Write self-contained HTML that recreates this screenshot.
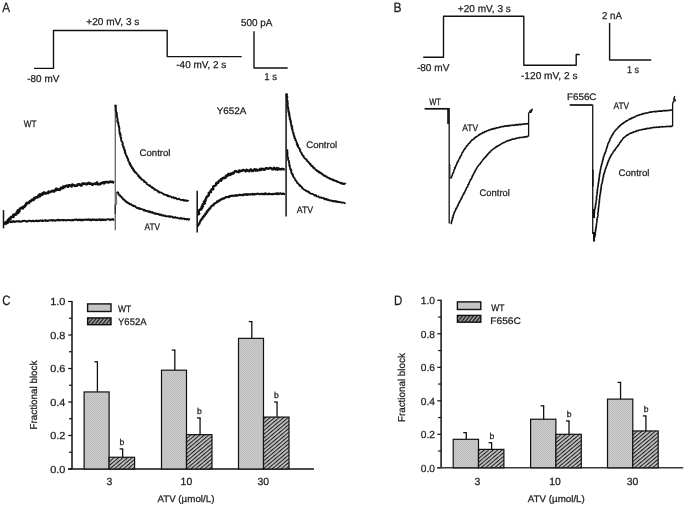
<!DOCTYPE html>
<html><head><meta charset="utf-8"><title>Figure</title>
<style>html,body{margin:0;padding:0;background:#fff;width:685px;height:506px;overflow:hidden}svg{display:block;filter:grayscale(1)}text{font-family:"Liberation Sans",sans-serif;stroke:#222;stroke-width:0.25px}</style>
</head><body>
<svg width="685" height="506" viewBox="0 0 685 506" font-family='"Liberation Sans", sans-serif' fill="#1a1a1a" text-rendering="geometricPrecision">
<defs>
<pattern id="stip" width="2" height="2" patternUnits="userSpaceOnUse">
<rect width="2" height="2" fill="#cbcbcb"/><rect width="1" height="1" fill="#bdbdbd"/><rect x="1" y="1" width="1" height="1" fill="#bdbdbd"/>
</pattern>
<pattern id="hatch" width="2.9" height="2.9" patternUnits="userSpaceOnUse" patternTransform="rotate(50)">
<rect width="2.9" height="2.9" fill="#c6c6c6"/><rect width="1.1" height="2.9" fill="#1e1e1e"/>
</pattern>
<pattern id="hatchL" width="2.9" height="2.9" patternUnits="userSpaceOnUse" patternTransform="rotate(38)">
<rect width="2.9" height="2.9" fill="#262626"/><rect width="1.3" height="2.9" fill="#b4b4b4"/>
</pattern>
</defs>
<rect width="685" height="506" fill="#fff"/>
<text x="2.2" y="12.0" font-size="13.5" text-anchor="start" textLength="7.8" lengthAdjust="spacingAndGlyphs">A</text>
<polyline points="34.00,68.40 53.50,68.40 53.50,30.50 167.20,30.50 167.20,56.60 241.70,56.60" fill="none" stroke="#111" stroke-width="1.4" stroke-linejoin="round" stroke-linecap="butt"/>
<text x="86.3" y="24.5" font-size="10.0" text-anchor="start" textLength="53.0" lengthAdjust="spacingAndGlyphs">+20 mV, 3 s</text>
<text x="27.3" y="82.3" font-size="10.0" text-anchor="start" textLength="32.0" lengthAdjust="spacingAndGlyphs">-80 mV</text>
<text x="176.3" y="68.0" font-size="10.0" text-anchor="start" textLength="50.0" lengthAdjust="spacingAndGlyphs">-40 mV, 2 s</text>
<polyline points="254.00,31.30 254.00,68.00 287.70,68.00" fill="none" stroke="#111" stroke-width="1.4" stroke-linejoin="round" stroke-linecap="butt"/>
<text x="241.0" y="26.2" font-size="10.0" text-anchor="start" textLength="31.4" lengthAdjust="spacingAndGlyphs">500 pA</text>
<text x="264.2" y="79.7" font-size="10.0" text-anchor="start" textLength="12.8" lengthAdjust="spacingAndGlyphs">1 s</text>
<text x="23.7" y="126.5" font-size="9.5" text-anchor="start" textLength="12.7" lengthAdjust="spacingAndGlyphs">WT</text>
<line x1="3.50" y1="210.10" x2="3.50" y2="228.40" stroke="#111" stroke-width="1.5"/>
<polyline points="4.50,224.50 4.67,223.32 6.08,223.53 5.89,221.98 7.25,222.11 7.66,221.22 7.86,220.10 9.20,220.19 9.14,218.82 10.39,218.82 10.47,217.61 11.14,217.00 12.30,216.87 13.57,216.84 13.11,215.10 13.92,214.61 15.19,214.61 16.34,214.48 16.42,213.26 16.80,212.34 18.34,212.64 17.60,210.52 19.48,211.23 19.33,209.69 19.84,208.85 20.53,208.23 21.51,208.00 22.91,208.35 22.80,206.68 24.06,206.83 24.86,206.37 25.19,205.34 26.13,205.04 26.12,203.64 26.81,203.04 27.71,202.68 29.08,202.90 29.44,201.90 30.01,201.15 31.10,201.08 31.66,200.30 32.21,199.50 33.58,199.87 34.21,199.19 34.41,197.85 35.57,197.95 36.27,197.36 37.45,197.51 38.05,196.77 38.35,195.47 39.85,196.41 39.85,194.31 40.96,194.55 42.08,194.90 42.46,193.33 43.57,193.71 44.10,192.47 45.42,193.47 46.34,193.38 47.07,192.70 48.14,193.06 48.64,191.61 49.76,192.14 50.56,191.66 51.42,191.37 52.22,190.85 53.33,191.40 54.27,191.36 54.85,190.11 55.84,190.24 56.32,188.70 57.60,189.78 58.44,189.40 59.52,189.87 60.29,189.25 60.83,187.86 61.76,187.82 62.82,188.15 63.28,186.52 64.44,187.19 65.14,186.31 65.99,185.95 66.86,185.59 68.11,186.89 68.69,185.32 69.65,185.40 70.60,185.55 71.67,186.45 72.30,184.59 73.32,185.26 74.25,185.35 75.25,185.96 76.13,185.71 77.04,185.70 77.81,184.33 78.75,184.53 79.65,184.32 80.65,185.39 81.57,185.48 82.34,183.64 83.25,183.62 84.17,183.68 85.08,183.62 86.02,184.12 86.95,184.29 87.81,183.52 88.68,182.89 89.65,183.74 90.55,183.58 91.49,183.95 92.45,184.74 93.32,184.11 94.21,183.67 95.13,183.84 96.04,183.91 96.87,182.49 97.89,184.30 98.78,183.98 99.70,184.14 100.60,183.92 101.46,182.98 102.37,182.95 103.24,182.25 104.21,183.37 105.06,182.07 105.97,182.03 106.89,182.30 107.80,182.15 108.73,182.50 109.61,181.82 110.51,181.66 111.44,181.95 112.34,181.80 113.28,182.34 114.20,182.60" fill="none" stroke="#111" stroke-width="2.6" stroke-linejoin="round" stroke-linecap="butt"/>
<polyline points="4.50,224.50 4.94,224.32 5.06,223.68 5.50,223.52 5.95,223.36 6.35,223.16 6.66,222.74 7.37,223.22 7.83,223.17 8.05,222.51 8.49,222.37 8.80,221.84 9.26,221.73 9.77,221.86 10.20,221.71 10.73,222.21 11.08,221.48 11.52,221.29 12.07,222.16 12.48,221.70 12.90,221.28 13.39,221.64 13.81,221.09 14.29,221.56 14.77,221.98 15.21,221.84 15.66,221.65 16.08,221.19 16.54,221.28 16.98,221.06 17.46,221.64 17.90,221.38 18.36,221.61 18.80,221.15 19.25,221.02 19.72,221.59 20.18,221.75 20.62,221.61 21.07,221.54 21.53,221.54 21.98,221.45 22.41,220.92 22.87,221.20 23.32,221.03 23.77,220.69 24.22,220.68 24.68,220.92 25.13,220.88 25.59,221.30 26.05,221.56 26.49,221.04 26.96,221.51 27.41,221.55 27.86,221.51 28.30,220.90 28.75,220.75 29.20,220.74 29.65,220.70 30.10,220.69 30.56,221.10 31.02,221.36 31.47,221.29 31.92,220.91 32.37,221.08 32.83,221.21 33.26,220.48 33.73,221.05 34.19,221.28 34.64,221.14 35.09,221.10 35.53,220.81 35.98,220.50 36.44,221.10 36.88,220.63 37.35,221.09 37.81,221.25 38.24,220.66 38.69,220.65 39.16,221.19 39.61,220.95 40.04,220.39 40.50,220.33 40.95,220.35 41.42,221.09 41.87,220.98 42.30,220.30 42.77,220.97 43.23,221.11 43.67,220.78 44.12,220.46 44.57,220.65 45.02,220.22 45.46,220.09 45.94,221.03 46.39,220.70 46.83,220.56 47.30,220.95 47.74,220.44 48.20,220.87 48.65,220.81 49.08,220.18 49.54,220.21 49.99,220.23 50.44,220.17 50.90,220.50 51.35,220.16 51.80,220.31 52.25,220.01 52.72,220.77 53.16,220.20 53.61,220.29 54.07,220.41 54.53,220.72 54.97,220.22 55.43,220.71 55.87,220.28 56.33,220.30 56.78,220.28 57.22,219.76 57.68,220.17 58.13,219.91 58.58,219.72 59.04,220.50 59.48,219.87 59.94,220.16 60.40,220.40 60.85,220.23 61.29,219.99 61.75,220.17 62.20,220.20 62.66,220.42 63.10,219.74 63.56,220.18 64.01,219.86 64.46,219.88 64.92,220.37 65.37,220.10 65.82,220.14 66.28,220.34 66.73,220.48 67.17,220.00 67.63,220.17 68.08,220.05 68.53,220.05 68.99,220.23 69.44,219.98 69.89,220.05 70.34,219.99 70.80,220.45 71.25,220.20 71.70,220.37 72.15,220.43 72.60,219.74 73.05,220.03 73.51,220.41 73.96,220.30 74.41,219.60 74.86,219.57 75.31,219.89 75.76,219.52 76.22,219.68 76.67,219.51 77.12,220.10 77.58,220.21 78.03,220.32 78.48,219.57 78.93,220.13 79.38,220.07 79.83,219.54 80.29,220.28 80.74,220.36 81.19,219.61 81.65,220.34 82.10,219.78 82.55,219.87 83.00,220.36 83.46,220.20 83.90,219.53 84.36,219.79 84.81,219.87 85.26,219.69 85.71,219.55 86.16,219.67 86.62,220.07 87.07,219.36 87.52,219.89 87.97,219.77 88.42,219.35 88.88,219.66 89.33,219.95 89.78,219.83 90.23,219.38 90.69,220.30 91.14,220.10 91.59,220.28 92.04,219.41 92.49,219.56 92.94,219.33 93.40,220.07 93.85,219.56 94.30,219.41 94.76,219.70 95.21,220.19 95.66,220.09 96.11,219.53 96.56,219.42 97.02,220.18 97.47,219.83 97.92,219.96 98.37,219.35 98.82,219.31 99.28,219.94 99.73,219.67 100.18,219.32 100.64,220.18 101.09,219.88 101.54,220.04 101.99,219.32 102.45,220.09 102.89,219.30 103.35,220.09 103.80,219.68 104.25,219.56 104.70,219.78 105.16,220.15 105.61,219.49 106.06,219.35 106.51,219.74 106.96,219.45 107.42,219.32 107.87,219.37 108.32,219.26 108.77,219.41 109.23,219.52 109.68,219.51 110.13,219.97 110.58,219.49 111.03,219.70 111.49,219.38 111.94,219.55 112.39,219.22 112.84,219.45 113.30,219.22 113.75,219.93 114.20,219.70" fill="none" stroke="#111" stroke-width="1.9" stroke-linejoin="round" stroke-linecap="butt"/>
<line x1="115.30" y1="104.50" x2="115.30" y2="230.20" stroke="#666" stroke-width="1.3"/>
<line x1="115.20" y1="204.60" x2="115.20" y2="214.10" stroke="#222" stroke-width="1.2"/>
<polyline points="115.60,104.80 115.65,105.25 115.22,105.73 116.08,106.13 115.40,106.63 115.82,107.05 115.80,107.51 115.50,107.99 115.98,108.40 115.91,108.86 115.77,109.33 115.53,109.81 116.21,110.20 115.77,110.70 115.95,111.14 116.07,111.58 116.35,112.00 116.46,112.44 116.81,112.85 116.79,113.31 116.90,113.75 116.29,114.28 116.84,114.66 116.99,115.10 117.14,115.53 116.46,116.09 116.51,116.55 116.79,116.96 117.25,117.34 117.37,117.77 117.40,118.23 117.32,118.70 117.70,119.09 117.50,119.59 117.77,120.00 117.16,120.57 117.23,121.02 117.73,121.39 118.11,121.78 117.48,122.35 118.20,122.68 118.23,123.14 118.66,123.52 118.36,124.03 118.35,124.49 118.40,124.94 118.78,125.34 118.56,125.84 119.13,126.19 118.95,126.68 119.20,127.10 118.98,127.60 119.41,127.98 119.51,128.42 119.32,128.91 119.47,129.35 119.21,129.86 119.35,130.29 119.22,130.77 119.40,131.20 119.43,131.66 119.36,132.13 119.93,132.48 120.08,132.91 119.53,133.49 120.44,133.76 119.97,134.32 120.14,134.75 120.82,135.06 120.14,135.67 120.19,136.13 120.54,136.51 120.54,136.98 120.56,137.44 121.32,137.72 121.05,138.25 121.17,138.69 120.96,139.20 121.09,139.64 121.18,140.08 121.53,140.46 121.34,140.98 121.66,141.36 121.76,141.80 122.33,142.12 122.64,142.51 122.66,142.97 122.56,143.46 122.93,143.83 122.35,144.47 122.74,144.82 122.80,145.28 122.93,145.71 123.01,146.16 123.32,146.54 123.92,146.83 123.29,147.50 123.47,147.91 123.84,148.27 123.94,148.71 123.96,149.18 124.66,149.43 124.16,150.07 124.77,150.35 125.08,150.72 125.04,151.21 124.74,151.79 125.39,152.05 125.03,152.65 124.96,153.16 125.56,153.42 125.82,153.81 125.88,154.27 125.85,154.76 125.93,155.22 126.23,155.59 126.36,156.02 127.05,156.24 127.15,156.68 127.22,157.14 126.93,157.74 127.50,158.00 127.43,158.52 128.11,158.73 128.24,159.17 128.23,159.66 128.03,160.24 128.20,160.67 128.39,161.07 128.93,161.33 128.91,161.84 129.15,162.22 129.35,162.63 129.86,162.88 129.37,163.63 130.19,163.71 129.71,164.47 129.96,164.85 130.98,164.80 130.82,165.41 130.73,165.98 130.83,166.45 131.51,166.58 131.90,166.87 132.19,167.23 131.81,168.00 132.67,167.99 132.61,168.58 133.23,168.71 133.17,169.30 133.07,169.92 134.00,169.83 133.70,170.59 134.22,170.78 134.18,171.37 134.60,171.63 135.25,171.70 134.99,172.46 135.59,172.57 136.23,172.63 136.52,172.96 136.43,173.62 136.75,173.94 137.16,174.18 137.58,174.41 137.73,174.88 138.05,175.20 137.97,175.89 138.90,175.65 138.67,176.49 138.92,176.89 139.75,176.71 139.50,177.60 139.98,177.77 140.17,178.22 140.92,178.10 141.19,178.47 141.50,178.80 141.42,179.55 142.03,179.56 142.51,179.70 142.80,180.05 143.24,180.23 143.72,180.36 144.03,180.69 143.89,181.55 144.59,181.42 144.53,182.21 145.31,181.96 145.65,182.26 145.85,182.74 146.41,182.77 146.65,183.19 146.65,183.93 147.05,184.15 147.46,184.37 147.93,184.50 148.12,185.00 148.47,185.30 149.06,185.26 149.32,185.67 150.08,185.40 150.04,186.22 150.57,186.26 150.75,186.78 151.18,186.96 151.76,186.94 152.26,187.02 152.11,188.00 152.95,187.61 153.12,188.16 153.56,188.32 153.96,188.54 154.08,189.16 154.32,189.61 155.10,189.27 155.26,189.85 155.83,189.79 156.07,190.25 156.54,190.35 157.04,190.38 157.43,190.60 157.80,190.86 157.84,191.69 158.44,191.56 158.97,191.53 159.04,192.35 159.40,192.65 160.06,192.37 160.60,192.30 160.98,192.55 161.43,192.66 161.73,193.09 162.25,193.05 162.59,193.38 162.99,193.58 163.28,194.05 163.57,194.53 164.04,194.58 164.58,194.44 165.00,194.61 165.38,194.88 165.85,194.91 166.29,195.03 166.80,194.93 167.15,195.29 167.35,196.09 168.05,195.44 168.36,195.95 168.75,196.21 169.10,196.58 169.74,196.11 170.15,196.30 170.59,196.42 170.97,196.70 171.39,196.88 171.67,197.50 172.13,197.54 172.56,197.70 173.24,197.02 173.67,197.16 173.90,197.94 174.29,198.25 174.84,197.97 175.24,198.21 175.84,197.77 176.17,198.27 176.46,198.90 176.93,198.93 177.36,199.07 177.77,199.30 178.38,198.71 178.86,198.69 179.28,198.84 179.63,199.30 180.04,199.56 180.42,199.92 180.91,199.81 181.37,199.84 181.78,200.05 182.29,199.85 182.71,200.04 183.26,199.63 183.55,200.45 184.10,200.01 184.41,200.77 184.91,200.59 185.42,200.34 185.89,200.26 186.31,200.46 186.69,200.92 187.13,201.06 187.67,200.57 188.12,200.60 188.50,201.10" fill="none" stroke="#111" stroke-width="1.8" stroke-linejoin="round" stroke-linecap="butt"/>
<line x1="116.50" y1="192.00" x2="116.50" y2="205.00" stroke="#777" stroke-width="1.2"/>
<polyline points="116.90,191.60 117.26,191.90 117.66,192.17 117.63,192.76 118.37,192.76 118.42,193.29 118.57,193.75 118.46,194.41 118.99,194.57 119.09,195.07 119.70,195.17 120.17,195.36 120.45,195.72 120.20,196.53 120.69,196.71 121.28,196.80 121.80,196.95 121.75,197.60 121.92,198.05 122.42,198.20 122.85,198.41 122.88,199.02 123.04,199.52 123.84,199.32 124.31,199.48 124.44,200.01 124.73,200.37 124.91,200.86 125.57,200.77 125.56,201.52 125.96,201.75 126.46,201.82 127.00,201.83 126.95,202.72 127.69,202.42 127.81,203.09 128.50,202.82 128.89,203.05 129.02,203.74 129.64,203.56 129.72,204.36 130.34,204.18 130.88,204.13 131.26,204.37 131.57,204.76 131.86,205.18 132.14,205.64 132.90,205.12 133.20,205.54 133.69,205.57 133.78,206.45 134.54,205.89 134.99,206.00 135.40,206.20 135.66,206.70 135.85,207.36 136.27,207.54 136.74,207.61 137.04,208.04 137.48,208.18 138.14,207.82 138.61,207.88 138.74,208.74 139.23,208.74 139.91,208.23 140.11,208.98 140.63,208.87 141.06,209.02 141.50,209.13 141.98,209.12 142.46,209.11 142.80,209.51 143.21,209.72 143.45,210.43 144.14,209.78 144.32,210.71 144.98,210.12 145.37,210.40 145.67,210.97 146.11,211.10 146.65,210.86 147.20,210.62 147.51,211.16 147.98,211.19 148.26,211.84 148.90,211.27 149.29,211.57 149.57,212.21 150.25,211.50 150.58,212.00 150.90,212.51 151.35,212.59 151.98,212.02 152.42,212.14 152.85,212.29 153.05,213.24 153.67,212.72 153.97,213.32 154.37,213.58 154.96,213.16 155.41,213.22 155.67,214.00 156.20,213.78 156.73,213.56 157.05,214.11 157.59,213.84 158.04,213.91 158.54,213.76 158.79,214.61 159.19,214.87 159.70,214.71 160.07,215.13 160.73,214.35 161.12,214.66 161.50,215.00 161.83,215.57 162.28,215.68 162.85,215.23 163.32,215.19 163.72,215.46 164.15,215.62 164.51,216.14 165.10,215.50 165.42,216.19 165.88,216.21 166.31,216.38 166.77,216.41 167.25,216.33 167.74,216.13 168.19,216.20 168.63,216.31 169.01,216.80 169.57,216.19 170.00,216.38 170.35,217.00 170.88,216.57 171.36,216.47 171.81,216.51 172.17,217.10 172.66,216.95 173.00,217.67 173.46,217.65 173.89,217.83 174.46,217.20 174.93,217.10 175.38,217.18 175.76,217.66 176.17,217.94 176.66,217.75 177.14,217.61 177.56,217.86 177.98,218.13 178.42,218.25 178.86,218.39 179.30,218.55 179.77,218.43 180.29,217.95 180.65,218.72 181.17,218.24 181.58,218.57 182.05,218.44 182.46,218.85 182.97,218.38 183.42,218.48 183.87,218.53 184.33,218.49 184.69,219.27 185.18,219.02 185.66,218.82 186.10,218.94 186.49,219.58 186.99,219.15 187.47,218.92 187.86,219.54 188.33,219.43 188.75,219.81 189.28,218.96 189.70,219.40" fill="none" stroke="#111" stroke-width="1.8" stroke-linejoin="round" stroke-linecap="butt"/>
<text x="139.5" y="155.9" font-size="9.5" text-anchor="start" textLength="31.0" lengthAdjust="spacingAndGlyphs">Control</text>
<text x="144.5" y="230.0" font-size="9.5" text-anchor="start" textLength="15.5" lengthAdjust="spacingAndGlyphs">ATV</text>
<text x="216.7" y="114.3" font-size="9.5" text-anchor="start" textLength="29.7" lengthAdjust="spacingAndGlyphs">Y652A</text>
<line x1="197.20" y1="190.80" x2="197.20" y2="232.60" stroke="#111" stroke-width="1.5"/>
<polyline points="197.60,214.80 198.62,214.29 199.16,213.55 198.02,211.94 198.89,211.36 199.01,210.39 199.56,209.65 201.37,209.58 201.12,208.41 202.16,207.95 201.62,206.61 202.92,206.29 202.64,205.09 202.75,204.11 204.10,203.83 204.84,203.21 203.84,201.58 205.15,201.29 205.64,200.52 205.40,199.33 206.12,198.69 206.19,197.67 206.76,196.95 207.32,196.21 208.38,195.78 208.95,195.06 208.66,193.81 208.83,192.83 209.86,192.40 210.94,192.03 210.64,190.72 211.37,190.12 211.72,189.25 213.21,189.22 213.36,188.19 213.13,186.87 213.76,186.18 214.79,185.81 215.61,185.28 216.34,184.69 216.11,183.28 216.84,182.68 218.24,182.75 218.47,181.71 218.95,180.90 219.66,180.34 221.17,180.76 221.08,179.19 222.12,179.05 222.62,178.18 223.46,177.75 224.71,178.00 225.62,177.75 225.75,176.20 226.38,175.45 227.69,175.94 227.98,174.58 228.62,173.80 230.25,174.97 230.65,173.71 231.81,174.05 232.33,172.93 233.50,173.50 234.07,172.42 234.77,171.59 235.58,171.06 236.74,171.86 237.67,171.82 238.67,172.15 239.25,170.36 240.34,171.25 241.17,170.62 242.10,170.79 242.95,169.99 243.88,170.19 244.82,170.61 245.78,171.36 246.60,169.68 247.55,170.39 248.50,170.96 249.43,171.23 250.24,169.63 251.15,169.43 252.16,171.01 253.07,171.01 253.92,169.97 254.76,169.05 255.80,170.73 256.62,169.58 257.63,170.53 258.48,169.86 259.44,170.16 260.18,168.73 261.24,169.86 262.01,168.64 262.96,168.91 263.94,169.71 264.84,169.61 265.65,168.25 266.57,168.25 267.51,168.55 268.43,168.73 269.33,168.42 270.23,167.86 271.16,168.10 272.06,169.06 272.93,169.44 273.96,167.79 274.78,168.91 275.65,169.39 276.69,168.04 277.47,169.70 278.46,168.32 279.33,169.31 280.24,169.23 281.15,169.41 282.07,168.79 282.98,169.03 283.89,169.36 284.80,169.20" fill="none" stroke="#111" stroke-width="2.4" stroke-linejoin="round" stroke-linecap="butt"/>
<polyline points="197.60,226.70 197.76,226.27 197.96,225.86 197.80,225.26 198.54,225.13 198.64,224.67 198.63,224.15 199.31,224.00 199.55,223.62 199.49,223.06 199.47,222.53 199.95,222.28 199.86,221.70 200.11,221.32 200.60,221.09 200.55,220.52 201.08,220.32 201.38,219.97 201.22,219.33 201.96,219.27 201.74,218.59 202.53,218.56 202.81,218.21 202.84,217.69 202.71,217.06 203.33,216.93 203.48,216.49 204.21,216.44 203.79,215.61 204.64,215.65 205.01,215.37 205.05,214.85 205.38,214.53 205.14,213.80 206.04,213.90 205.91,213.24 206.56,213.16 206.79,212.77 206.47,211.95 207.24,211.97 207.63,211.70 207.23,210.80 207.74,210.62 208.34,210.52 208.17,209.79 209.02,209.91 208.84,209.16 209.55,209.17 209.34,208.38 209.91,208.28 210.52,208.23 210.30,207.41 210.65,207.12 211.14,206.96 211.32,206.51 211.44,205.99 211.86,205.78 212.17,205.46 213.03,205.72 213.18,205.22 213.66,205.08 213.51,204.23 214.26,204.39 214.17,203.59 214.79,203.60 215.21,203.39 215.39,202.89 216.07,203.00 216.24,202.47 216.62,202.22 217.16,202.20 217.08,201.30 217.96,201.77 218.13,201.22 218.38,200.79 218.97,200.90 219.09,200.21 219.83,200.64 220.02,200.07 220.31,199.67 220.89,199.83 221.16,199.34 221.46,198.91 222.11,199.23 222.24,198.41 222.97,198.94 223.17,198.24 223.74,198.43 224.29,198.59 224.58,198.06 225.03,197.98 225.35,197.50 225.69,197.07 226.14,196.96 226.61,196.94 227.17,197.28 227.55,196.98 228.01,196.95 228.54,197.21 228.80,196.36 229.26,196.35 229.80,196.67 230.11,195.95 230.55,195.84 231.07,196.10 231.47,195.77 231.97,195.93 232.39,195.72 232.90,196.00 233.35,195.94 233.74,195.49 234.25,195.85 234.67,195.64 235.08,195.25 235.62,195.99 235.99,195.25 236.42,195.10 236.87,194.99 237.38,195.48 237.85,195.67 238.29,195.53 238.70,195.10 239.14,194.92 239.56,194.62 240.07,195.21 240.52,195.09 240.95,194.83 241.43,195.09 241.86,194.85 242.35,195.30 242.79,195.06 243.20,194.54 243.70,195.16 244.09,194.26 244.58,194.72 245.02,194.56 245.46,194.36 245.90,194.15 246.40,194.84 246.80,194.05 247.29,194.56 247.76,194.92 248.17,194.10 248.62,194.13 249.10,194.52 249.54,194.40 250.00,194.51 250.46,194.66 250.88,194.00 251.34,194.11 251.79,194.08 252.23,193.81 252.72,194.63 253.17,194.50 253.61,194.42 254.04,193.69 254.52,194.51 254.97,194.39 255.41,194.09 255.87,194.35 256.32,194.04 256.76,193.80 257.21,193.66 257.66,193.77 258.11,193.57 258.57,193.85 259.04,194.25 259.49,194.18 259.94,194.32 260.39,194.17 260.83,193.72 261.29,194.00 261.74,193.87 262.20,194.21 262.65,193.94 263.10,193.68 263.55,194.05 264.01,194.37 264.45,193.61 264.91,194.27 265.35,193.40 265.81,193.65 266.26,193.62 266.72,194.12 267.17,194.32 267.62,194.12 268.07,193.69 268.53,194.24 268.97,193.69 269.42,193.60 269.88,194.26 270.33,193.98 270.78,194.04 271.24,194.01 271.69,194.32 272.14,193.81 272.59,194.18 273.04,194.03 273.50,194.19 273.95,193.77 274.40,194.05 274.85,193.90 275.30,193.63 275.75,193.53 276.21,193.94 276.66,193.39 277.11,194.23 277.56,193.46 278.02,193.34 278.47,193.42 278.92,194.24 279.37,193.65 279.82,193.45 280.28,193.33 280.73,193.35 281.18,194.00 281.63,193.94 282.09,194.00 282.54,194.04 282.99,193.37 283.44,193.89 283.90,193.66 284.35,194.12 284.80,193.80" fill="none" stroke="#111" stroke-width="2.0" stroke-linejoin="round" stroke-linecap="butt"/>
<line x1="286.10" y1="93.30" x2="286.10" y2="216.60" stroke="#222" stroke-width="1.6"/>
<polyline points="286.80,94.00 287.25,94.44 286.47,94.92 286.44,95.38 286.43,95.83 287.30,96.24 287.22,96.70 287.34,97.14 287.45,97.59 286.67,98.09 286.74,98.54 286.95,98.98 286.80,99.45 287.03,99.89 287.41,100.31 287.63,100.74 287.67,101.19 287.06,101.70 287.65,102.10 287.58,102.56 287.52,103.02 287.96,103.43 287.77,103.90 287.79,104.35 287.41,104.85 287.80,105.26 287.90,105.70 287.32,106.23 287.84,106.62 287.55,107.12 287.85,107.53 288.49,107.89 288.18,108.40 288.23,108.85 287.97,109.35 288.46,109.73 288.18,110.23 288.42,110.65 288.81,111.04 288.25,111.60 289.09,111.91 288.45,112.48 289.16,112.81 289.41,113.23 289.30,113.71 288.83,114.26 288.71,114.74 289.75,115.00 289.37,115.54 289.46,115.98 289.25,116.48 289.94,116.80 289.73,117.31 289.97,117.72 289.59,118.26 290.24,118.59 289.66,119.17 290.40,119.48 290.57,119.91 290.19,120.45 290.48,120.85 290.95,121.21 290.53,121.76 291.16,122.09 290.56,122.68 290.75,123.11 290.75,123.57 291.00,123.98 291.36,124.36 291.42,124.81 291.52,125.25 291.13,125.80 292.01,126.07 291.33,126.69 292.27,126.94 292.20,127.42 292.25,127.87 291.73,128.46 292.23,128.80 292.45,129.21 292.07,129.77 292.81,130.05 292.71,130.55 292.75,131.00 292.65,131.50 292.76,131.93 292.98,132.35 293.39,132.71 293.53,133.14 293.81,133.53 293.27,134.15 293.57,134.54 293.62,135.00 294.30,135.27 294.17,135.78 293.98,136.31 294.30,136.69 294.86,136.98 294.68,137.51 294.42,138.08 295.17,138.30 295.36,138.71 295.40,139.17 295.17,139.73 295.19,140.20 296.00,140.39 296.16,140.81 296.23,141.26 296.33,141.71 296.32,142.20 296.82,142.48 296.85,142.96 297.15,143.32 296.61,144.05 297.02,144.37 297.78,144.53 297.18,145.29 298.15,145.35 298.08,145.88 297.72,146.54 298.09,146.87 298.33,147.26 298.79,147.54 299.20,147.85 298.99,148.45 299.66,148.64 299.76,149.09 299.79,149.58 300.30,149.84 300.17,150.41 300.02,150.99 300.31,151.36 300.68,151.67 300.78,152.14 301.14,152.46 301.63,152.70 301.45,153.31 301.85,153.60 301.79,154.16 301.89,154.63 302.53,154.75 302.66,155.20 302.77,155.67 303.30,155.85 303.72,156.10 303.60,156.76 303.75,157.22 304.11,157.51 304.45,157.82 304.62,158.28 305.05,158.52 305.37,158.85 305.81,159.07 306.21,159.33 306.27,159.88 306.97,159.87 307.02,160.43 307.05,161.01 307.41,161.30 307.77,161.59 308.35,161.67 308.52,162.12 308.80,162.48 308.98,162.93 309.44,163.12 309.55,163.64 309.67,164.14 310.52,163.97 310.49,164.63 310.71,165.04 311.30,165.11 311.54,165.51 311.51,166.17 312.50,165.84 312.46,166.52 313.05,166.57 312.94,167.33 313.15,167.76 313.77,167.77 314.39,167.78 314.40,168.43 314.75,168.71 314.97,169.15 315.45,169.29 315.70,169.68 315.92,170.12 316.47,170.16 316.88,170.36 316.90,171.06 317.71,170.76 317.78,171.41 318.32,171.45 318.46,172.02 319.20,171.78 319.07,172.74 319.80,172.49 320.34,172.51 320.59,172.94 320.90,173.30 321.49,173.23 321.65,173.82 322.03,174.07 322.26,174.55 322.83,174.50 323.26,174.66 323.66,174.86 323.78,175.53 324.07,175.93 324.67,175.80 325.21,175.76 325.32,176.49 325.91,176.35 326.40,176.40 326.83,176.54 326.93,177.32 327.32,177.56 327.81,177.61 328.29,177.67 328.65,177.95 329.21,177.85 329.30,178.71 329.97,178.36 330.26,178.81 330.59,179.16 331.01,179.35 331.56,179.22 332.05,179.25 332.35,179.67 332.94,179.47 333.06,180.30 333.67,180.04 333.88,180.68 334.53,180.33 334.91,180.61 335.37,180.68 335.72,181.01 336.23,180.97 336.72,180.97 336.87,181.80 337.45,181.56 337.88,181.69 338.29,181.90 338.65,182.22 339.09,182.32 339.45,182.66 339.87,182.83 340.39,182.68 340.66,183.35 341.11,183.41 341.77,182.78 341.99,183.64 342.41,183.84 342.88,183.84 343.48,183.33 343.75,184.11 344.24,184.03 344.82,183.53 345.26,183.63 345.60,184.20" fill="none" stroke="#111" stroke-width="1.8" stroke-linejoin="round" stroke-linecap="butt"/>
<polyline points="287.00,149.50 287.29,149.93 287.48,150.37 287.48,150.82 287.44,151.28 286.95,151.79 287.42,152.19 287.67,152.62 286.97,153.15 287.14,153.59 287.82,153.96 287.16,154.50 287.50,154.92 287.39,155.39 287.56,155.82 287.40,156.30 287.57,156.74 287.59,157.19 288.29,157.54 287.87,158.07 288.10,158.49 287.97,158.97 288.34,159.37 287.98,159.89 288.38,160.28 288.75,160.68 288.87,161.11 289.05,161.54 288.79,162.05 289.30,162.41 289.00,162.94 289.41,163.31 289.17,163.82 289.26,164.27 289.32,164.72 289.11,165.23 290.05,165.47 289.35,166.11 289.82,166.45 289.85,166.92 289.87,167.38 289.82,167.87 290.39,168.18 290.48,168.63 290.09,169.23 291.07,169.40 290.67,170.01 290.81,170.44 291.53,170.68 291.13,171.30 291.21,171.75 291.13,172.27 291.85,172.49 291.40,173.14 292.01,173.39 292.20,173.80 291.99,174.37 292.95,174.44 292.50,175.12 292.77,175.49 293.23,175.78 292.96,176.41 293.60,176.59 293.72,177.05 293.89,177.47 293.91,177.99 294.62,178.11 294.66,178.61 294.91,179.00 295.05,179.46 295.07,179.99 295.77,180.08 295.58,180.76 296.19,180.89 296.37,181.32 296.82,181.55 296.90,182.05 296.80,182.69 297.32,182.85 297.49,183.29 298.13,183.35 298.43,183.68 298.74,184.01 298.82,184.55 299.09,184.92 299.29,185.36 300.15,185.18 299.98,185.98 300.19,186.43 300.75,186.51 301.43,186.47 301.59,186.96 302.12,187.05 302.34,187.48 302.20,188.33 302.75,188.38 303.07,188.71 303.34,189.09 303.62,189.46 304.16,189.48 304.52,189.75 304.89,190.02 305.22,190.33 305.66,190.49 305.99,190.81 306.63,190.65 306.78,191.28 307.28,191.33 307.52,191.83 308.24,191.48 308.60,191.77 309.07,191.87 309.12,192.73 309.46,193.07 309.99,193.05 310.52,193.01 310.72,193.62 311.14,193.79 311.65,193.79 312.18,193.72 312.57,193.95 312.92,194.26 313.38,194.36 313.74,194.65 314.06,195.03 314.35,195.49 315.13,194.87 315.34,195.52 315.96,195.22 316.35,195.47 316.50,196.28 317.01,196.24 317.30,196.73 317.90,196.46 318.48,196.23 318.77,196.74 319.12,197.09 319.42,197.57 319.84,197.77 320.43,197.44 320.88,197.53 321.41,197.38 321.66,198.04 322.22,197.77 322.67,197.86 323.14,197.87 323.57,198.00 323.80,198.78 324.40,198.38 324.58,199.32 325.28,198.62 325.48,199.50 326.13,198.92 326.60,198.94 326.84,199.74 327.41,199.40 327.71,199.99 328.29,199.58 328.77,199.56 329.03,200.38 329.48,200.43 329.89,200.67 330.36,200.66 330.94,200.13 331.27,200.76 331.69,200.93 332.18,200.78 332.53,201.33 333.11,200.75 333.41,201.54 333.90,201.38 334.48,200.77 334.92,200.86 335.25,201.57 335.66,201.81 336.24,201.17 336.64,201.48 337.02,201.97 337.56,201.49 337.89,202.25 338.40,201.95 338.91,201.61 339.31,201.98 339.73,202.26 340.20,202.19 340.61,202.49 341.13,202.03 341.49,202.73 342.00,202.36 342.42,202.70 342.87,202.74 343.35,202.59 343.80,202.60 344.21,203.05 344.65,203.26 345.12,203.14 345.60,202.90" fill="none" stroke="#111" stroke-width="1.7" stroke-linejoin="round" stroke-linecap="butt"/>
<text x="306.2" y="147.8" font-size="9.5" text-anchor="start" textLength="31.0" lengthAdjust="spacingAndGlyphs">Control</text>
<text x="296.7" y="213.0" font-size="9.5" text-anchor="start" textLength="16.5" lengthAdjust="spacingAndGlyphs">ATV</text>
<text x="393.5" y="12.2" font-size="13.5" text-anchor="start" textLength="8.0" lengthAdjust="spacingAndGlyphs">B</text>
<polyline points="423.20,57.20 443.50,57.20 443.50,16.30 523.80,16.30 523.80,65.20 576.20,65.20 576.20,54.50 579.70,54.50" fill="none" stroke="#111" stroke-width="1.4" stroke-linejoin="round" stroke-linecap="butt"/>
<text x="457.8" y="11.7" font-size="10.0" text-anchor="start" textLength="53.0" lengthAdjust="spacingAndGlyphs">+20 mV, 3 s</text>
<text x="416.9" y="71.2" font-size="10.0" text-anchor="start" textLength="32.5" lengthAdjust="spacingAndGlyphs">-80 mV</text>
<text x="521.0" y="79.2" font-size="10.0" text-anchor="start" textLength="56.5" lengthAdjust="spacingAndGlyphs">-120 mV, 2 s</text>
<polyline points="609.60,23.00 609.60,60.00 651.20,60.00" fill="none" stroke="#111" stroke-width="1.4" stroke-linejoin="round" stroke-linecap="butt"/>
<text x="602.0" y="19.4" font-size="10.0" text-anchor="start" textLength="20.0" lengthAdjust="spacingAndGlyphs">2 nA</text>
<text x="627.0" y="72.6" font-size="10.0" text-anchor="start" textLength="12.0" lengthAdjust="spacingAndGlyphs">1 s</text>
<text x="429.2" y="105.1" font-size="9.5" text-anchor="start" textLength="11.8" lengthAdjust="spacingAndGlyphs">WT</text>
<polyline points="424.60,108.80 448.20,108.80" fill="none" stroke="#111" stroke-width="1.7" stroke-linejoin="round" stroke-linecap="butt"/>
<line x1="448.20" y1="108.00" x2="448.20" y2="124.10" stroke="#111" stroke-width="2.0"/>
<line x1="449.20" y1="108.00" x2="449.20" y2="223.50" stroke="#222" stroke-width="1.4"/>
<line x1="449.80" y1="164.20" x2="449.80" y2="178.40" stroke="#222" stroke-width="1.2"/>
<polyline points="450.70,178.40 450.65,177.88 451.33,177.69 451.37,177.21 451.62,176.82 451.53,176.29 451.86,175.94 452.25,175.61 452.35,175.15 452.40,174.68 452.41,174.20 452.65,173.81 453.08,173.49 452.97,172.96 453.31,172.61 453.44,172.17 453.77,171.81 453.89,171.37 453.75,170.83 453.75,170.34 454.06,169.97 454.30,169.58 454.55,169.19 454.83,168.81 455.03,168.39 454.71,167.79 455.32,167.53 455.47,167.11 455.66,166.70 455.67,166.22 455.68,165.73 456.18,165.45 456.34,165.03 456.46,164.59 456.78,164.24 456.67,163.68 456.73,163.21 457.18,162.92 457.52,162.58 457.40,162.02 457.90,161.76 458.21,161.41 458.04,160.81 458.45,160.51 458.70,160.13 458.79,159.66 458.86,159.19 459.09,158.80 459.56,158.53 459.79,158.13 459.82,157.64 459.83,157.13 460.42,156.92 460.60,156.51 460.52,155.95 460.92,155.64 461.30,155.33 461.50,154.92 461.52,154.42 461.71,154.01 461.99,153.64 462.00,153.13 462.22,152.73 462.44,152.33 462.94,152.10 462.99,151.61 463.33,151.29 463.49,150.85 463.78,150.50 463.84,150.00 464.03,149.58 464.76,149.51 464.70,148.93 464.82,148.45 465.33,148.25 465.67,147.93 465.62,147.33 466.10,147.11 466.24,146.65 466.59,146.34 466.63,145.80 466.91,145.44 467.64,145.43 467.86,145.02 467.97,144.53 468.29,144.21 468.44,143.75 468.97,143.61 469.11,143.14 469.64,143.02 469.86,142.62 470.19,142.31 470.57,142.05 470.58,141.43 470.82,141.01 471.21,140.76 471.54,140.44 471.83,140.08 472.16,139.76 472.71,139.68 473.17,139.52 473.36,139.03 473.90,138.96 474.23,138.65 474.27,137.97 474.82,137.93 475.11,137.56 475.37,137.15 476.03,137.28 476.14,136.68 476.62,136.56 477.01,136.34 477.49,136.24 477.76,135.85 478.05,135.46 478.45,135.24 478.74,134.85 479.38,135.02 479.78,134.79 479.93,134.16 480.28,133.83 480.74,133.72 481.17,133.54 481.73,133.62 482.13,133.40 482.51,133.16 482.70,132.53 483.30,132.73 483.69,132.49 484.08,132.27 484.57,132.27 484.76,131.58 485.20,131.44 485.76,131.61 486.22,131.54 486.58,131.22 486.92,130.84 487.41,130.84 487.87,130.78 488.16,130.25 488.64,130.22 489.05,130.03 489.46,129.81 489.96,129.86 490.33,129.54 490.78,129.44 491.19,129.25 491.72,129.42 492.03,128.90 492.59,129.17 492.94,128.74 493.35,128.52 493.93,128.91 494.25,128.38 494.81,128.67 495.23,128.51 495.67,128.41 496.00,127.86 496.49,127.92 496.88,127.61 497.44,127.99 497.86,127.83 498.28,127.61 498.70,127.40 499.12,127.24 499.63,127.43 500.03,127.13 500.49,127.12 500.88,126.75 501.33,126.70 501.76,126.52 502.28,126.82 502.71,126.64 503.11,126.31 503.64,126.66 504.02,126.23 504.48,126.24 504.91,126.01 505.37,126.01 505.87,126.28 506.27,125.92 506.71,125.75 507.18,125.88 507.62,125.72 508.11,126.01 508.50,125.48 509.02,125.94 509.40,125.34 509.91,125.78 510.35,125.60 510.77,125.27 511.24,125.38 511.68,125.22 512.12,125.15 512.57,125.07 513.03,125.11 513.52,125.44 513.98,125.40 514.42,125.31 514.83,124.77 515.29,124.84 515.77,125.16 516.18,124.62 516.67,124.98 517.10,124.67 517.59,125.04 517.98,124.43 518.48,124.86 518.91,124.54 519.35,124.37 519.79,124.25 520.29,124.70 520.72,124.47 521.16,124.23 521.62,124.33 522.10,124.57 522.51,124.11 522.99,124.28 523.41,123.98 523.87,123.96 524.35,124.27 524.80,124.19 525.22,123.83 525.67,123.72 526.12,123.68 526.60,123.95 527.05,123.83 527.48,123.66 527.93,123.57 528.40,123.70" fill="none" stroke="#111" stroke-width="1.55" stroke-linejoin="round" stroke-linecap="butt"/>
<polyline points="451.10,224.20 451.37,223.78 451.32,223.31 451.19,222.81 451.20,222.35 451.69,221.99 451.61,221.50 451.90,221.10 451.62,220.56 452.17,220.23 452.01,219.72 452.42,219.36 452.55,218.92 452.46,218.43 452.32,217.91 452.96,217.63 452.84,217.12 453.20,216.76 452.99,216.22 453.09,215.77 453.60,215.46 453.48,214.95 453.51,214.48 453.77,214.10 454.05,213.72 453.86,213.18 454.31,212.86 454.42,212.42 454.62,212.02 454.56,211.51 455.06,211.23 455.30,210.85 455.51,210.45 455.40,209.90 455.81,209.60 455.83,209.10 456.23,208.80 456.07,208.20 456.71,208.02 456.96,207.65 456.94,207.11 457.16,206.72 457.39,206.32 457.60,205.92 457.55,205.37 458.26,205.24 458.08,204.63 458.27,204.21 458.44,203.79 458.72,203.43 459.23,203.17 459.01,202.56 459.25,202.17 459.77,201.93 459.71,201.39 459.82,200.94 460.33,200.69 460.53,200.28 460.70,199.86 461.00,199.51 460.89,198.94 461.50,198.74 461.63,198.30 461.47,197.71 461.72,197.33 462.12,197.02 462.33,196.62 462.42,196.16 462.54,195.71 462.89,195.38 462.95,194.91 463.40,194.62 463.75,194.29 463.57,193.69 464.00,193.40 464.29,193.04 464.18,192.48 464.74,192.25 465.00,191.88 464.90,191.32 465.12,190.93 465.55,190.63 465.58,190.14 465.71,189.70 466.20,189.44 466.31,188.99 466.28,188.47 466.43,188.03 466.68,187.65 466.93,187.27 467.43,187.01 467.53,186.56 467.79,186.18 467.94,185.75 468.16,185.35 467.93,184.73 468.38,184.45 468.81,184.16 469.00,183.75 468.83,183.16 469.12,182.80 469.43,182.44 469.49,181.97 469.78,181.60 469.73,181.07 470.12,180.76 470.36,180.38 470.30,179.84 470.56,179.47 471.21,179.28 471.31,178.82 471.60,178.46 471.64,177.98 471.94,177.62 472.18,177.24 472.39,176.83 472.14,176.20 472.67,175.96 472.68,175.45 473.10,175.16 473.09,174.65 473.44,174.31 473.85,174.01 473.89,173.52 473.90,173.02 474.25,172.69 474.42,172.26 474.90,172.00 474.76,171.41 474.99,171.02 475.38,170.72 475.33,170.17 475.80,169.92 476.21,169.64 476.21,169.11 476.32,168.65 476.66,168.33 476.93,167.97 476.99,167.47 477.23,167.08 477.49,166.71 477.83,166.40 478.16,166.07 478.37,165.66 478.62,165.28 478.82,164.86 479.31,164.67 479.73,164.42 479.90,163.97 480.16,163.60 480.48,163.27 480.55,162.75 481.07,162.58 481.23,162.13 481.55,161.80 481.85,161.47 482.07,161.06 482.27,160.65 482.52,160.27 482.80,159.90 483.22,159.66 483.45,159.26 483.83,158.99 483.85,158.42 484.30,158.20 484.82,158.05 484.83,157.46 485.27,157.24 485.53,156.87 485.73,156.44 486.35,156.38 486.33,155.76 486.84,155.61 486.87,155.02 487.13,154.65 487.79,154.63 487.90,154.12 488.04,153.64 488.49,153.44 488.83,153.13 489.27,152.92 489.31,152.34 489.67,152.05 490.31,152.03 490.53,151.61 490.59,151.04 491.00,150.79 491.33,150.48 491.79,150.31 492.10,149.98 492.53,149.79 492.85,149.49 493.09,149.07 493.52,148.90 493.89,148.64 494.26,148.39 494.54,147.99 495.02,147.89 495.38,147.61 495.83,147.47 495.96,146.83 496.58,146.96 496.69,146.28 497.31,146.43 497.64,146.10 498.00,145.82 498.53,145.82 498.80,145.39 499.15,145.08 499.65,145.05 500.07,144.87 500.38,144.51 500.71,144.17 501.13,143.98 501.53,143.77 502.00,143.69 502.28,143.24 502.70,143.08 503.15,142.95 503.51,142.65 503.89,142.42 504.42,142.47 504.85,142.31 505.17,141.93 505.57,141.72 505.92,141.39 506.37,141.28 506.75,141.02 507.27,141.09 507.70,140.93 508.01,140.49 508.61,140.80 508.92,140.31 509.45,140.45 509.87,140.30 510.32,140.23 510.61,139.65 511.08,139.64 511.60,139.78 511.88,139.14 512.32,139.03 512.84,139.20 513.27,139.04 513.77,139.16 514.19,138.95 514.59,138.70 515.09,138.86 515.46,138.47 515.90,138.36 516.37,138.36 516.77,138.10 517.21,137.99 517.68,138.05 518.10,137.82 518.61,138.10 519.03,137.86 519.46,137.70 519.87,137.37 520.34,137.46 520.79,137.41 521.26,137.43 521.71,137.38 522.18,137.49 522.64,137.48 523.04,137.13 523.49,137.04 523.95,137.08 524.44,137.23 524.82,136.77 525.29,136.80 525.76,136.89 526.14,136.43 526.60,136.44 527.12,136.74 527.55,136.57 527.96,136.30 528.40,136.20" fill="none" stroke="#111" stroke-width="1.55" stroke-linejoin="round" stroke-linecap="butt"/>
<polyline points="528.60,136.60 528.60,113.50 530.00,111.00 532.20,109.20 531.20,112.20 528.80,112.60" fill="none" stroke="#111" stroke-width="1.3" stroke-linejoin="round" stroke-linecap="butt"/>
<text x="462.3" y="130.8" font-size="9.5" text-anchor="start" textLength="15.8" lengthAdjust="spacingAndGlyphs">ATV</text>
<text x="479.6" y="196.0" font-size="9.5" text-anchor="start" textLength="30.2" lengthAdjust="spacingAndGlyphs">Control</text>
<text x="567.0" y="100.3" font-size="9.5" text-anchor="start" textLength="29.4" lengthAdjust="spacingAndGlyphs">F656C</text>
<polyline points="569.70,105.00 592.40,105.00" fill="none" stroke="#111" stroke-width="1.7" stroke-linejoin="round" stroke-linecap="butt"/>
<line x1="592.70" y1="104.50" x2="592.70" y2="234.00" stroke="#222" stroke-width="1.4"/>
<line x1="592.90" y1="169.70" x2="592.90" y2="186.60" stroke="#111" stroke-width="1.5"/>
<line x1="594.00" y1="209.00" x2="594.00" y2="218.00" stroke="#111" stroke-width="2.0"/>
<line x1="594.00" y1="232.00" x2="594.00" y2="241.50" stroke="#111" stroke-width="2.0"/>
<polyline points="594.00,213.80 594.20,213.38 594.37,212.95 594.55,212.53 594.58,212.07 594.39,211.57 594.32,211.10 594.49,210.67 594.70,210.25 594.78,209.80 594.68,209.33 594.76,208.88 595.10,208.48 595.16,208.04 595.10,207.56 595.55,207.19 595.42,206.70 595.14,206.20 595.43,205.79 595.73,205.38 595.52,204.89 595.82,204.48 595.48,203.97 595.73,203.55 596.11,203.15 596.03,202.68 596.14,202.24 595.92,201.76 596.16,201.33 596.25,200.89 596.14,200.42 596.43,200.00 596.41,199.54 596.75,199.13 596.55,198.65 596.51,198.19 596.39,197.72 596.46,197.27 596.87,196.87 596.53,196.37 596.58,195.92 596.67,195.48 596.93,195.05 597.16,194.62 597.08,194.16 597.25,193.72 596.86,193.23 596.88,192.77 597.38,192.37 597.16,191.89 597.45,191.47 597.28,191.00 597.23,190.54 597.34,190.09 597.29,189.63 597.82,189.24 597.69,188.77 597.60,188.30 597.72,187.86 597.74,187.41 597.60,186.94 598.16,186.55 598.04,186.08 598.32,185.66 598.07,185.17 598.24,184.74 598.08,184.26 598.02,183.80 598.60,183.42 598.62,182.97 598.36,182.47 598.77,182.07 598.78,181.62 598.54,181.13 598.78,180.71 599.06,180.29 598.85,179.80 599.18,179.40 598.83,178.89 598.98,178.45 599.25,178.03 599.02,177.54 599.14,177.10 599.55,176.71 599.39,176.23 599.64,175.81 599.39,175.31 599.42,174.86 599.61,174.43 599.58,173.97 600.13,173.61 599.80,173.09 600.04,172.68 599.86,172.18 600.19,171.78 600.19,171.32 600.29,170.88 600.18,170.40 600.30,169.96 600.80,169.60 600.62,169.10 600.64,168.64 600.71,168.19 600.86,167.76 600.92,167.32 600.90,166.85 601.37,166.49 601.28,166.00 601.27,165.54 601.69,165.17 601.43,164.65 601.63,164.23 602.07,163.87 601.76,163.33 602.04,162.93 602.38,162.55 602.47,162.10 602.20,161.57 602.42,161.16 602.75,160.78 602.66,160.29 603.11,159.94 602.79,159.38 603.34,159.06 603.20,158.56 603.16,158.08 603.42,157.68 603.36,157.19 603.82,156.86 603.70,156.35 604.20,156.04 604.17,155.56 604.20,155.09 604.29,154.64 604.65,154.29 604.59,153.78 605.13,153.51 604.88,152.92 605.26,152.59 605.44,152.17 605.45,151.69 605.89,151.37 605.83,150.87 606.14,150.50 606.23,150.05 606.22,149.57 606.41,149.16 606.37,148.67 606.55,148.25 607.07,147.94 606.90,147.41 607.22,147.04 607.04,146.51 607.43,146.15 607.45,145.68 607.67,145.28 607.69,144.81 607.71,144.34 608.00,143.96 608.10,143.52 608.21,143.08 608.70,142.79 608.63,142.27 608.87,141.88 609.32,141.58 609.42,141.13 609.66,140.74 609.84,140.32 609.63,139.72 609.90,139.35 609.96,138.87 610.51,138.63 610.70,138.21 610.74,137.72 610.98,137.33 611.32,137.00 611.55,136.62 611.53,136.09 612.07,135.87 612.03,135.34 612.40,135.04 612.40,134.52 612.61,134.11 613.25,134.00 613.40,133.57 613.65,133.19 613.57,132.59 613.84,132.21 614.17,131.89 614.46,131.53 614.79,131.21 615.11,130.88 615.24,130.39 615.66,130.14 616.10,129.92 616.19,129.39 616.79,129.31 616.97,128.86 617.34,128.59 617.45,128.07 617.84,127.82 618.26,127.60 618.43,127.14 618.60,126.68 619.27,126.73 619.57,126.40 619.70,125.87 619.94,125.46 620.60,125.52 620.85,125.12 620.98,124.56 621.41,124.36 621.71,124.01 622.32,124.04 622.47,123.49 623.09,123.55 623.39,123.19 623.53,122.60 624.11,122.64 624.38,122.23 624.87,122.15 625.27,121.94 625.47,121.42 625.78,121.08 626.43,121.29 626.65,120.79 627.19,120.82 627.51,120.47 627.91,120.28 628.33,120.11 628.67,119.78 629.02,119.48 629.32,119.06 629.90,119.19 630.23,118.85 630.66,118.69 631.18,118.72 631.39,118.09 631.96,118.24 632.19,117.66 632.77,117.83 633.21,117.70 633.49,117.22 633.97,117.20 634.49,117.25 634.82,116.89 635.22,116.67 635.56,116.33 635.94,116.05 636.43,116.04 636.86,115.90 637.23,115.61 637.68,115.50 638.06,115.23 638.61,115.39 639.03,115.20 639.36,114.80 639.79,114.65 640.27,114.65 640.69,114.47 641.21,114.60 641.53,114.13 641.96,113.97 642.49,114.18 642.80,113.63 643.30,113.76 643.70,113.52 644.20,113.70 644.60,113.44 645.07,113.46 645.43,113.02 645.94,113.21 646.37,113.08 646.80,112.91 647.28,113.00 647.73,112.95 648.09,112.44 648.56,112.46 649.01,112.42 649.44,112.25 649.88,112.09 650.35,112.14 650.79,112.02 651.28,112.25 651.71,112.03 652.13,111.77 652.60,111.83 653.06,111.85 653.49,111.73 653.93,111.56 654.37,111.45 654.81,111.36 655.33,111.89 655.76,111.70 656.17,111.25 656.66,111.58 657.12,111.70 657.55,111.40 657.97,111.09 658.44,111.27 658.89,111.20 659.33,111.01 659.80,111.19 660.22,110.83 660.72,111.33 661.16,111.13 661.60,111.08 662.07,111.22 662.51,111.01 662.94,110.73 663.39,110.69 663.83,110.58 664.27,110.47 664.77,110.87 665.22,110.87 665.64,110.50 666.08,110.39 666.56,110.62 667.02,110.70 667.47,110.71 667.88,110.22 668.37,110.54 668.82,110.53 669.26,110.43 669.69,110.14 670.13,110.02 670.62,110.36 671.04,110.02 671.49,110.00 671.95,110.07 672.40,110.00" fill="none" stroke="#111" stroke-width="1.55" stroke-linejoin="round" stroke-linecap="butt"/>
<polyline points="594.60,238.00 594.51,237.53 594.46,237.07 594.83,236.67 594.93,236.22 595.11,235.79 595.10,235.34 595.29,234.91 595.37,234.46 595.17,233.98 595.23,233.53 595.09,233.06 595.24,232.62 595.47,232.20 595.24,231.71 595.66,231.31 595.41,230.82 595.64,230.40 596.01,229.99 595.55,229.47 595.58,229.02 595.88,228.61 595.79,228.14 596.17,227.74 595.80,227.23 596.36,226.85 596.43,226.41 596.45,225.95 596.30,225.48 596.27,225.02 596.56,224.60 596.53,224.14 596.54,223.69 596.55,223.23 596.67,222.79 596.86,222.36 597.01,221.93 597.12,221.49 596.74,220.98 596.88,220.54 597.02,220.11 597.15,219.67 597.08,219.21 597.05,218.75 597.04,218.29 597.24,217.86 597.38,217.42 597.74,217.02 597.76,216.56 597.79,216.11 597.92,215.67 597.97,215.22 597.82,214.75 597.99,214.32 597.60,213.81 598.02,213.41 598.04,212.96 597.91,212.49 598.13,212.06 598.41,211.64 598.19,211.16 598.34,210.72 598.19,210.25 598.27,209.80 598.65,209.39 598.20,208.88 598.35,208.45 598.69,208.04 598.61,207.57 598.45,207.10 598.85,206.69 598.73,206.22 598.91,205.79 598.87,205.33 598.99,204.89 599.06,204.44 599.01,203.98 598.90,203.51 598.99,203.07 599.46,202.67 599.31,202.20 599.10,201.72 599.59,201.32 599.28,200.83 599.24,200.37 599.55,199.95 599.43,199.48 599.62,199.05 599.71,198.61 599.57,198.14 599.83,197.71 599.60,197.23 599.89,196.81 599.99,196.37 599.74,195.88 599.99,195.46 599.85,194.98 600.12,194.56 600.43,194.15 600.30,193.68 600.46,193.24 600.54,192.80 600.22,192.30 600.81,191.93 600.71,191.46 600.41,190.96 600.91,190.58 600.71,190.09 600.65,189.63 601.19,189.25 601.02,188.77 601.22,188.34 600.91,187.84 601.36,187.45 601.01,186.93 601.19,186.51 601.35,186.07 601.21,185.59 601.63,185.20 601.49,184.72 601.62,184.28 601.94,183.88 601.86,183.41 602.21,183.01 602.14,182.54 602.37,182.12 602.28,181.65 602.58,181.24 602.64,180.80 602.32,180.27 602.75,179.90 602.60,179.41 602.95,179.02 602.99,178.57 603.17,178.15 602.86,177.62 603.11,177.21 603.42,176.82 603.65,176.41 603.62,175.95 603.34,175.41 603.78,175.06 603.60,174.55 603.98,174.18 604.25,173.79 603.98,173.24 604.57,172.95 604.56,172.47 604.45,171.96 604.55,171.52 604.84,171.14 605.20,170.78 605.19,170.30 605.07,169.78 605.16,169.33 605.36,168.92 605.90,168.63 605.69,168.08 606.05,167.73 606.05,167.25 606.42,166.90 606.39,166.41 606.41,165.94 606.97,165.66 606.93,165.16 607.16,164.76 607.38,164.36 607.62,163.96 607.24,163.34 607.58,162.98 607.63,162.52 607.99,162.17 608.36,161.82 608.49,161.39 608.23,160.80 608.48,160.41 609.01,160.14 609.11,159.69 609.13,159.21 609.36,158.82 609.37,158.34 609.93,158.11 609.88,157.59 610.34,157.32 610.41,156.86 610.34,156.31 610.70,155.99 610.87,155.57 611.46,155.40 611.54,154.92 611.51,154.36 611.83,154.03 612.17,153.71 612.48,153.37 612.79,153.03 612.96,152.60 613.20,152.21 613.29,151.72 613.83,151.54 613.97,151.09 614.07,150.61 614.55,150.38 615.06,150.19 614.85,149.50 615.15,149.16 615.67,148.96 615.73,148.46 615.99,148.08 616.36,147.79 616.50,147.34 616.91,147.08 617.16,146.70 617.63,146.49 617.91,146.13 617.71,145.43 618.23,145.24 618.60,144.93 618.91,144.59 619.12,144.17 619.31,143.74 619.57,143.36 619.69,142.88 619.91,142.47 620.43,142.26 620.73,141.91 621.03,141.56 621.17,141.10 621.26,140.60 621.76,140.40 622.02,140.04 622.20,139.60 622.54,139.30 622.70,138.86 623.09,138.61 623.32,138.23 623.49,137.78 623.92,137.60 624.24,137.30 624.82,137.33 624.96,136.83 625.26,136.50 625.58,136.18 625.94,135.91 626.35,135.70 626.65,135.34 626.99,135.03 627.66,135.22 627.92,134.77 628.32,134.53 628.75,134.36 629.08,133.99 629.45,133.70 629.84,133.43 630.32,133.35 630.74,133.15 631.26,133.18 631.63,132.89 632.14,132.92 632.41,132.42 632.95,132.57 633.29,132.22 633.60,131.78 634.03,131.68 634.54,131.76 635.04,131.84 635.34,131.34 635.85,131.43 636.21,131.10 636.72,131.22 637.02,130.63 637.52,130.74 638.03,130.85 638.37,130.37 638.80,130.24 639.21,129.99 639.67,129.96 640.13,129.90 640.64,130.05 641.01,129.66 641.48,129.66 641.90,129.44 642.39,129.58 642.86,129.64 643.28,129.42 643.66,129.06 644.17,129.28 644.64,129.33 645.03,129.03 645.42,128.63 645.94,128.98 646.39,128.93 646.78,128.54 647.20,128.33 647.65,128.28 648.14,128.41 648.62,128.54 649.04,128.32 649.51,128.42 649.89,127.93 650.35,127.93 650.83,128.11 651.27,127.99 651.70,127.78 652.17,127.89 652.59,127.62 653.02,127.40 653.49,127.56 653.91,127.29 654.40,127.59 654.83,127.36 655.29,127.41 655.74,127.43 656.17,127.18 656.63,127.26 657.06,126.95 657.56,127.45 657.99,127.19 658.46,127.41 658.86,126.81 659.34,127.11 659.80,127.13 660.23,126.86 660.67,126.69 661.12,126.69 661.57,126.65 662.05,126.99 662.47,126.55 662.95,126.95 663.38,126.68 663.84,126.72 664.29,126.72 664.74,126.67 665.20,126.70 665.64,126.64 666.08,126.45 666.55,126.66 666.98,126.34 667.45,126.59 667.90,126.59 668.35,126.57 668.79,126.27 669.25,126.52 669.71,126.62 670.14,126.28 670.59,126.15 671.05,126.28 671.51,126.51 671.94,126.00 672.40,126.20" fill="none" stroke="#111" stroke-width="1.55" stroke-linejoin="round" stroke-linecap="butt"/>
<polyline points="672.60,126.40 672.60,104.00 673.40,101.20 675.40,100.80 674.60,98.60 673.60,99.60 674.80,96.00" fill="none" stroke="#111" stroke-width="1.3" stroke-linejoin="round" stroke-linecap="butt"/>
<text x="613.5" y="109.3" font-size="9.5" text-anchor="start" textLength="15.6" lengthAdjust="spacingAndGlyphs">ATV</text>
<text x="618.5" y="175.6" font-size="9.5" text-anchor="start" textLength="31.0" lengthAdjust="spacingAndGlyphs">Control</text>
<text x="2.2" y="304.6" font-size="13.5" text-anchor="start" textLength="8.2" lengthAdjust="spacingAndGlyphs">C</text>
<line x1="72.00" y1="301.00" x2="72.00" y2="469.00" stroke="#111" stroke-width="1.5"/>
<line x1="68.20" y1="469.00" x2="72.00" y2="469.00" stroke="#111" stroke-width="1.2"/>
<text x="65.4" y="472.9" font-size="10.2" text-anchor="end" textLength="15.2" lengthAdjust="spacingAndGlyphs">0.0</text>
<line x1="69.00" y1="452.25" x2="72.00" y2="452.25" stroke="#111" stroke-width="1.2"/>
<line x1="68.20" y1="435.50" x2="72.00" y2="435.50" stroke="#111" stroke-width="1.2"/>
<text x="65.4" y="439.4" font-size="10.2" text-anchor="end" textLength="15.2" lengthAdjust="spacingAndGlyphs">0.2</text>
<line x1="69.00" y1="418.75" x2="72.00" y2="418.75" stroke="#111" stroke-width="1.2"/>
<line x1="68.20" y1="402.00" x2="72.00" y2="402.00" stroke="#111" stroke-width="1.2"/>
<text x="65.4" y="405.9" font-size="10.2" text-anchor="end" textLength="15.2" lengthAdjust="spacingAndGlyphs">0.4</text>
<line x1="69.00" y1="385.25" x2="72.00" y2="385.25" stroke="#111" stroke-width="1.2"/>
<line x1="68.20" y1="368.50" x2="72.00" y2="368.50" stroke="#111" stroke-width="1.2"/>
<text x="65.4" y="372.4" font-size="10.2" text-anchor="end" textLength="15.2" lengthAdjust="spacingAndGlyphs">0.6</text>
<line x1="69.00" y1="351.75" x2="72.00" y2="351.75" stroke="#111" stroke-width="1.2"/>
<line x1="68.20" y1="335.00" x2="72.00" y2="335.00" stroke="#111" stroke-width="1.2"/>
<text x="65.4" y="338.9" font-size="10.2" text-anchor="end" textLength="15.2" lengthAdjust="spacingAndGlyphs">0.8</text>
<line x1="69.00" y1="318.25" x2="72.00" y2="318.25" stroke="#111" stroke-width="1.2"/>
<line x1="68.20" y1="301.50" x2="72.00" y2="301.50" stroke="#111" stroke-width="1.2"/>
<text x="65.4" y="305.4" font-size="10.2" text-anchor="end" textLength="15.2" lengthAdjust="spacingAndGlyphs">1.0</text>
<line x1="68.20" y1="469.00" x2="314.00" y2="469.00" stroke="#111" stroke-width="1.4"/>
<line x1="97.40" y1="391.95" x2="97.40" y2="361.80" stroke="#111" stroke-width="1.3"/>
<line x1="94.40" y1="361.80" x2="98.00" y2="361.80" stroke="#111" stroke-width="1.3"/>
<rect x="84.10" y="391.95" width="25.00" height="77.05" fill="url(#stip)" stroke="#111" stroke-width="1.2"/>
<line x1="122.65" y1="457.27" x2="122.65" y2="448.90" stroke="#111" stroke-width="1.3"/>
<line x1="119.65" y1="448.90" x2="123.25" y2="448.90" stroke="#111" stroke-width="1.3"/>
<rect x="109.10" y="457.27" width="25.50" height="11.73" fill="url(#hatch)" stroke="#111" stroke-width="1.2"/>
<text x="119.6" y="444.9" font-size="8.5" text-anchor="start" textLength="4.8" lengthAdjust="spacingAndGlyphs">b</text>
<line x1="174.80" y1="370.18" x2="174.80" y2="350.07" stroke="#111" stroke-width="1.3"/>
<line x1="171.80" y1="350.07" x2="175.40" y2="350.07" stroke="#111" stroke-width="1.3"/>
<rect x="161.50" y="370.18" width="25.00" height="98.82" fill="url(#stip)" stroke="#111" stroke-width="1.2"/>
<line x1="200.05" y1="434.66" x2="200.05" y2="417.91" stroke="#111" stroke-width="1.3"/>
<line x1="197.05" y1="417.91" x2="200.65" y2="417.91" stroke="#111" stroke-width="1.3"/>
<rect x="186.50" y="434.66" width="25.50" height="34.34" fill="url(#hatch)" stroke="#111" stroke-width="1.2"/>
<text x="197.1" y="413.9" font-size="8.5" text-anchor="start" textLength="4.8" lengthAdjust="spacingAndGlyphs">b</text>
<line x1="251.80" y1="338.35" x2="251.80" y2="321.60" stroke="#111" stroke-width="1.3"/>
<line x1="248.80" y1="321.60" x2="252.40" y2="321.60" stroke="#111" stroke-width="1.3"/>
<rect x="238.50" y="338.35" width="25.00" height="130.65" fill="url(#stip)" stroke="#111" stroke-width="1.2"/>
<line x1="277.05" y1="417.07" x2="277.05" y2="402.00" stroke="#111" stroke-width="1.3"/>
<line x1="274.05" y1="402.00" x2="277.65" y2="402.00" stroke="#111" stroke-width="1.3"/>
<rect x="263.50" y="417.07" width="25.50" height="51.93" fill="url(#hatch)" stroke="#111" stroke-width="1.2"/>
<text x="274.1" y="398.0" font-size="8.5" text-anchor="start" textLength="4.8" lengthAdjust="spacingAndGlyphs">b</text>
<text x="109.4" y="485.0" font-size="10.4" text-anchor="middle">3</text>
<text x="186.4" y="485.0" font-size="10.4" text-anchor="middle">10</text>
<text x="263.2" y="485.0" font-size="10.4" text-anchor="middle">30</text>
<text x="157.4" y="502.3" font-size="9.5" text-anchor="start" textLength="57.0" lengthAdjust="spacingAndGlyphs">ATV (&#181;mol/L)</text>
<text transform="translate(37.0,429.5) rotate(-90)" font-size="10" textLength="68.9" lengthAdjust="spacingAndGlyphs">Fractional block</text>
<rect x="87.60" y="303.90" width="23.4" height="7.6" fill="url(#stip)" stroke="#111" stroke-width="1.4"/>
<rect x="87.60" y="317.90" width="23.4" height="6.8" fill="url(#hatchL)" stroke="#111" stroke-width="1.4"/>
<text x="118.0" y="311.9" font-size="9.5" text-anchor="start" textLength="13.2" lengthAdjust="spacingAndGlyphs">WT</text>
<text x="118.0" y="324.9" font-size="9.5" text-anchor="start" textLength="28.6" lengthAdjust="spacingAndGlyphs">Y652A</text>
<text x="393.9" y="304.8" font-size="13.5" text-anchor="start" textLength="8.3" lengthAdjust="spacingAndGlyphs">D</text>
<line x1="441.10" y1="299.80" x2="441.10" y2="467.80" stroke="#111" stroke-width="1.5"/>
<line x1="437.30" y1="467.80" x2="441.10" y2="467.80" stroke="#111" stroke-width="1.2"/>
<text x="435.0" y="471.7" font-size="10.2" text-anchor="end" textLength="14.2" lengthAdjust="spacingAndGlyphs">0.0</text>
<line x1="438.10" y1="451.05" x2="441.10" y2="451.05" stroke="#111" stroke-width="1.2"/>
<line x1="437.30" y1="434.30" x2="441.10" y2="434.30" stroke="#111" stroke-width="1.2"/>
<text x="435.0" y="438.2" font-size="10.2" text-anchor="end" textLength="14.2" lengthAdjust="spacingAndGlyphs">0.2</text>
<line x1="438.10" y1="417.55" x2="441.10" y2="417.55" stroke="#111" stroke-width="1.2"/>
<line x1="437.30" y1="400.80" x2="441.10" y2="400.80" stroke="#111" stroke-width="1.2"/>
<text x="435.0" y="404.7" font-size="10.2" text-anchor="end" textLength="14.2" lengthAdjust="spacingAndGlyphs">0.4</text>
<line x1="438.10" y1="384.05" x2="441.10" y2="384.05" stroke="#111" stroke-width="1.2"/>
<line x1="437.30" y1="367.30" x2="441.10" y2="367.30" stroke="#111" stroke-width="1.2"/>
<text x="435.0" y="371.2" font-size="10.2" text-anchor="end" textLength="14.2" lengthAdjust="spacingAndGlyphs">0.6</text>
<line x1="438.10" y1="350.55" x2="441.10" y2="350.55" stroke="#111" stroke-width="1.2"/>
<line x1="437.30" y1="333.80" x2="441.10" y2="333.80" stroke="#111" stroke-width="1.2"/>
<text x="435.0" y="337.7" font-size="10.2" text-anchor="end" textLength="14.2" lengthAdjust="spacingAndGlyphs">0.8</text>
<line x1="438.10" y1="317.05" x2="441.10" y2="317.05" stroke="#111" stroke-width="1.2"/>
<line x1="437.30" y1="300.30" x2="441.10" y2="300.30" stroke="#111" stroke-width="1.2"/>
<text x="435.0" y="304.2" font-size="10.2" text-anchor="end" textLength="14.2" lengthAdjust="spacingAndGlyphs">1.0</text>
<line x1="437.30" y1="467.80" x2="683.20" y2="467.80" stroke="#3a3a3a" stroke-width="1.4"/>
<line x1="466.25" y1="439.32" x2="466.25" y2="432.62" stroke="#111" stroke-width="1.3"/>
<line x1="463.25" y1="432.62" x2="466.85" y2="432.62" stroke="#111" stroke-width="1.3"/>
<rect x="453.20" y="439.32" width="25.30" height="28.48" fill="url(#stip)" stroke="#111" stroke-width="1.2"/>
<line x1="491.60" y1="449.38" x2="491.60" y2="442.68" stroke="#111" stroke-width="1.3"/>
<line x1="488.60" y1="442.68" x2="492.20" y2="442.68" stroke="#111" stroke-width="1.3"/>
<rect x="478.50" y="449.38" width="25.40" height="18.43" fill="url(#hatch)" stroke="#111" stroke-width="1.2"/>
<text x="489.4" y="438.7" font-size="8.5" text-anchor="start" textLength="4.8" lengthAdjust="spacingAndGlyphs">b</text>
<line x1="543.65" y1="419.23" x2="543.65" y2="405.82" stroke="#111" stroke-width="1.3"/>
<line x1="540.65" y1="405.82" x2="544.25" y2="405.82" stroke="#111" stroke-width="1.3"/>
<rect x="530.60" y="419.23" width="25.30" height="48.57" fill="url(#stip)" stroke="#111" stroke-width="1.2"/>
<line x1="569.00" y1="434.30" x2="569.00" y2="420.90" stroke="#111" stroke-width="1.3"/>
<line x1="566.00" y1="420.90" x2="569.60" y2="420.90" stroke="#111" stroke-width="1.3"/>
<rect x="555.90" y="434.30" width="25.40" height="33.50" fill="url(#hatch)" stroke="#111" stroke-width="1.2"/>
<text x="566.8" y="416.9" font-size="8.5" text-anchor="start" textLength="4.8" lengthAdjust="spacingAndGlyphs">b</text>
<line x1="620.55" y1="399.12" x2="620.55" y2="382.38" stroke="#111" stroke-width="1.3"/>
<line x1="617.55" y1="382.38" x2="621.15" y2="382.38" stroke="#111" stroke-width="1.3"/>
<rect x="607.50" y="399.12" width="25.30" height="68.68" fill="url(#stip)" stroke="#111" stroke-width="1.2"/>
<line x1="645.90" y1="430.95" x2="645.90" y2="415.88" stroke="#111" stroke-width="1.3"/>
<line x1="642.90" y1="415.88" x2="646.50" y2="415.88" stroke="#111" stroke-width="1.3"/>
<rect x="632.80" y="430.95" width="25.40" height="36.85" fill="url(#hatch)" stroke="#111" stroke-width="1.2"/>
<text x="643.7" y="411.9" font-size="8.5" text-anchor="start" textLength="4.8" lengthAdjust="spacingAndGlyphs">b</text>
<text x="477.5" y="485.0" font-size="10.4" text-anchor="middle">3</text>
<text x="555.1" y="485.0" font-size="10.4" text-anchor="middle">10</text>
<text x="632.5" y="485.0" font-size="10.4" text-anchor="middle">30</text>
<text x="527.8" y="502.3" font-size="9.5" text-anchor="start" textLength="57.0" lengthAdjust="spacingAndGlyphs">ATV (&#181;mol/L)</text>
<text transform="translate(404.8,422.1) rotate(-90)" font-size="10" textLength="68.9" lengthAdjust="spacingAndGlyphs">Fractional block</text>
<rect x="457.40" y="301.90" width="23.4" height="7.6" fill="url(#stip)" stroke="#111" stroke-width="1.4"/>
<rect x="457.40" y="315.40" width="23.4" height="6.8" fill="url(#hatchL)" stroke="#111" stroke-width="1.4"/>
<text x="491.3" y="311.4" font-size="9.5" text-anchor="start" textLength="13.2" lengthAdjust="spacingAndGlyphs">WT</text>
<text x="490.3" y="323.9" font-size="9.5" text-anchor="start" textLength="30.6" lengthAdjust="spacingAndGlyphs">F656C</text>
</svg>
</body></html>
